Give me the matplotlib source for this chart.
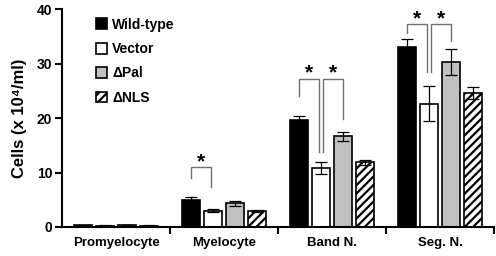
import matplotlib
matplotlib.use("Agg")
import matplotlib.pyplot as plt
import numpy as np

categories = ["Promyelocyte", "Myelocyte", "Band N.", "Seg. N."]
series = ["Wild-type", "Vector", "\u0394Pal", "\u0394NLS"]
wild_type = [0.35, 5.0, 19.7, 33.1]
wild_type_err = [0.1, 0.5, 0.7, 1.5]
vector = [0.25, 3.0, 10.9, 22.7]
vector_err = [0.05, 0.3, 1.1, 3.2]
dpal = [0.3, 4.35, 16.7, 30.3]
dpal_err = [0.05, 0.4, 0.8, 2.4]
dnls = [0.25, 2.9, 11.9, 24.6]
dnls_err = [0.05, 0.2, 0.5, 1.1]
y_ticks = [0, 10, 20, 30, 40]

# significance brackets: (category, series_a, series_b, top, leg_a, leg_b)
brackets = [
    (1, 0, 1, 11.0, 9.0, 7.4),
    (2, 0, 1, 27.3, 24.0, 13.8),
    (2, 1, 2, 27.3, 13.8, 19.8),
    (3, 0, 1, 37.3, 35.6, 28.5),
    (3, 1, 2, 37.3, 28.5, 34.2),
]

plt.rcParams['font.family'] = ['Liberation Sans', 'DejaVu Sans']
plt.rcParams['hatch.linewidth'] = 1.6

fig = plt.figure(figsize=(4.96, 2.56), dpi=100)
ax = fig.add_axes([0.125, 0.1133, 0.871, 0.8497])

values = [wild_type, vector, dpal, dnls]
errs = [wild_type_err, vector_err, dpal_err, dnls_err]
faces = ["black", "white", "#c0c0c0", "white"]
hatches = [None, None, None, "////"]
step = 0.204
width = 0.167
x = np.arange(len(categories))
offsets = (np.arange(4) - 1.5) * step
for i in range(4):
    ax.bar(x + offsets[i], values[i], width, color=faces[i], edgecolor="black",
           linewidth=1.2, hatch=hatches[i], label=series[i], zorder=2)
    ax.errorbar(x + offsets[i], values[i], yerr=errs[i], fmt="none", ecolor="black",
                elinewidth=0.9, capsize=4, capthick=0.9, zorder=3)

gap = 0.017
for cat, a, b, top, la, lb in brackets:
    xa = cat + offsets[a]
    xb = cat + offsets[b]
    if a == 1:
        xa += gap
    if b == 1:
        xb -= gap
    ax.plot([xa, xa, xb, xb], [la, top, top, lb], color="#707070", lw=1.0, zorder=4)
    ax.text((xa + xb) / 2, top + 1.0, "*", ha="center", va="center",
            fontsize=15, fontweight="bold", color="black")

ax.set_xlim(-0.5, 3.5)
ax.set_ylim(0, 40)
ax.set_yticks(y_ticks)
ax.set_yticklabels([str(t) for t in y_ticks], fontsize=10, fontweight="bold")
ax.set_xticks(x)
ax.set_xticklabels(categories, fontsize=9.5, fontweight="bold")
ax.tick_params(axis="x", which="major", length=0, pad=7)
ax.set_xticks([0.5, 1.5, 2.5, 3.5], minor=True)
ax.tick_params(axis="x", which="minor", length=5, width=1.5, direction="out")
ax.tick_params(axis="y", length=5, width=1.5, direction="out", pad=2)
ax.spines["top"].set_visible(False)
ax.spines["right"].set_visible(False)
ax.spines["left"].set_linewidth(1.5)
ax.spines["bottom"].set_linewidth(1.5)
ax.set_ylabel("Cells (x 10\u2074/ml)", fontsize=12, fontweight="bold", labelpad=7)

leg = ax.legend(loc="upper left", bbox_to_anchor=(0.05, 1.02), frameon=False,
                prop={"weight": "bold", "size": 10}, handlelength=0.8,
                handleheight=0.8, handletextpad=0.35, labelspacing=0.75)

fig.savefig("out.png", dpi=100)
